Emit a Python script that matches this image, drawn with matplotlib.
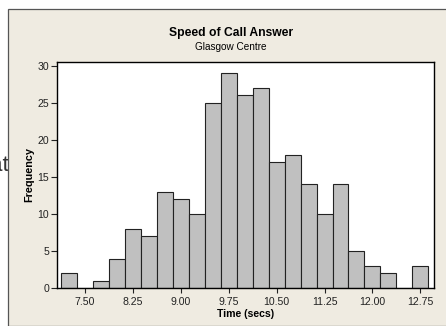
import matplotlib
matplotlib.use('Agg')
import matplotlib.pyplot as plt
from matplotlib.patches import Rectangle
from matplotlib import font_manager

# histogram of answer times, bins 0.25 s wide
bin_centres = [7.25, 7.50, 7.75, 8.00, 8.25, 8.50, 8.75, 9.00, 9.25, 9.50, 9.75, 10.00,
               10.25, 10.50, 10.75, 11.00, 11.25, 11.50, 11.75, 12.00, 12.25, 12.50, 12.75]
counts = [2, 0, 1, 4, 8, 7, 13, 12, 10, 25, 29, 26, 27, 17, 18, 14, 10, 14, 5, 3, 2, 0, 3]
xtick_vals = [7.50, 8.25, 9.00, 9.75, 10.50, 11.25, 12.00, 12.75]
ytick_vals = [0, 5, 10, 15, 20, 25, 30]

names = {f.name for f in font_manager.fontManager.ttflist}
fam = 'Liberation Sans Narrow' if 'Liberation Sans Narrow' in names else 'Liberation Sans'
plt.rcParams['font.family'] = [fam, 'DejaVu Sans']

W, H = 446, 326
fig = plt.figure(figsize=(W / 100, H / 100), dpi=100)
fig.patch.set_facecolor('white')

# bit of slide text peeking out behind the panel
fig.text(9 / W, 1 - 166 / H, 'at', fontsize=16, color='#333333', ha='right', va='center',
         zorder=0)

# beige chart panel
panel = Rectangle((8 / W, 0), 1, 1 - 9 / H, transform=fig.transFigure,
                  facecolor='#EFEBE1', edgecolor='#555555', linewidth=0.9, zorder=1)
fig.patches.append(panel)

ax = fig.add_axes([56.7 / W, 1 - 288.3 / H, (434 - 56.7) / W, (288.3 - 61.7) / H])
ax.set_zorder(2)
ax.set_facecolor('white')

ax.bar(bin_centres, counts, width=0.25, color='#C0C0C0', edgecolor='#222222', linewidth=0.8)

ax.set_xlim(7.057, 12.964)
ax.set_ylim(0, 30.54)
ax.set_xticks(xtick_vals)
ax.set_xticklabels(['%.2f' % v for v in xtick_vals])
ax.set_yticks(ytick_vals)
ax.tick_params(axis='both', direction='out', length=4, width=0.8, labelsize=7.6,
               colors='#222222', pad=1.5)
ax.tick_params(axis='x', length=3.5, pad=2.5)
for s in ax.spines.values():
    s.set_linewidth(1.0)
    s.set_color('black')

ax.set_xlabel('Time (secs)', fontsize=7.6, fontweight='bold', labelpad=2)
ax.set_ylabel('Frequency', fontsize=7.8, fontweight='bold')
ax.yaxis.set_label_coords(-0.060, 0.5)

fig.text(231 / W, 1 - 33 / H, 'Speed of Call Answer', fontsize=8.7, fontweight='bold',
         ha='center', va='center', zorder=3)
fig.text(231 / W, 1 - 46.5 / H, 'Glasgow Centre', fontsize=7.2, ha='center', va='center',
         zorder=3)

fig.savefig('out.png', dpi=100, facecolor=fig.get_facecolor())
